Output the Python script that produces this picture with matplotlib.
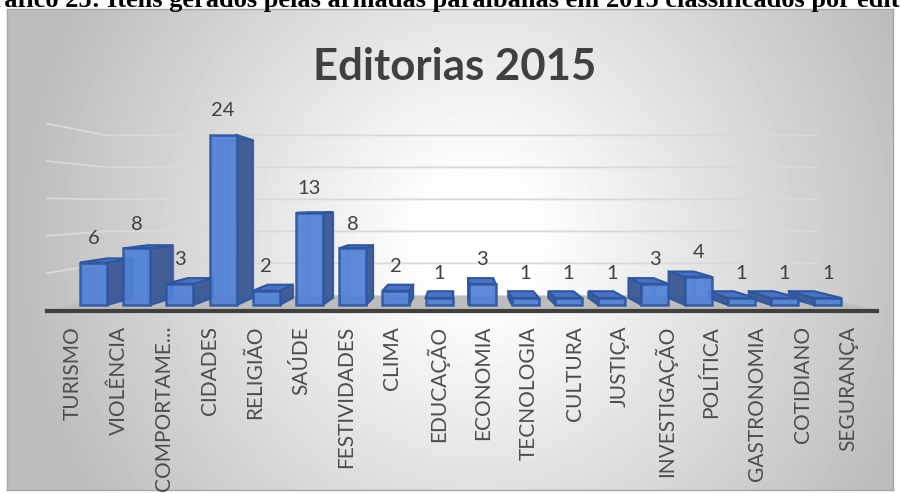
import matplotlib.pyplot as plt
import numpy as np
from matplotlib.patches import Polygon

categorias = ["TURISMO", "VIOLÊNCIA", "COMPORTAME…", "CIDADES", "RELIGIÃO", "SAÚDE",
              "FESTIVIDADES", "CLIMA", "EDUCAÇÃO", "ECONOMIA", "TECNOLOGIA", "CULTURA",
              "JUSTIÇA", "INVESTIGAÇÃO", "POLÍTICA", "GASTRONOMIA", "COTIDIANO", "SEGURANÇA"]
valores = [6, 8, 3, 24, 2, 13, 8, 2, 1, 3, 1, 1, 1, 3, 4, 1, 1, 1]
titulo = "Editorias 2015"
legenda = "Gráfico 25: Itens gerados pelas armadas paraibanas em 2015 classificados por editoria"

W, H = 900, 493
fig = plt.figure(figsize=(9, 4.93), dpi=100)

# moldura com degrade radial
bg = fig.add_axes([7 / W, 1 - 490 / H, 886 / W, 481 / H])
yy, xx = np.mgrid[0:481, 0:886]
d = np.sqrt(((xx - 470) / 450) ** 2 + ((yy - 230) / 470) ** 2)
nivel = 1 - 0.26 * np.clip((d - 0.12) / 0.9, 0, 1)
bg.imshow(nivel, cmap='gray', vmin=0, vmax=1, aspect='auto', interpolation='bilinear')
bg.set_xticks([]); bg.set_yticks([])
for sp in bg.spines.values():
    sp.set_color('#a6a6a6'); sp.set_linewidth(1)

# eixo principal (plano frontal do grafico 3d)
ax = fig.add_axes([47 / W, (H - 310.6) / H, 830 / W, 187 / H])
ax.patch.set_visible(False)
x0, x1 = -0.57, 17.63
ax.set_xlim(x0, x1)
ax.set_ylim(0, 25)
for k in ['top', 'left', 'right']:
    ax.spines[k].set_visible(False)
ax.spines['bottom'].set_color('#404040')
ax.spines['bottom'].set_linewidth(3)
ax.spines['bottom'].set_zorder(10)

# perspectiva: ponto de fuga e profundidades
VX, VY = 8.5, 14.1
S_FRENTE, S_FUNDO, S_PAREDE = 0.947, 0.879, 0.856

def proj(x, y, s):
    return VX + (x - VX) * s, VY + (y - VY) * s

# piso
piso = [proj(x0, 0, 1), proj(x1, 0, 1), proj(x1, 0, S_PAREDE), proj(x0, 0, S_PAREDE)]
ax.add_patch(Polygon(piso, closed=True, fc='#bdbdbd', ec='none', zorder=1, clip_on=False))

# linhas de grade (parede do fundo + parede lateral esquerda)
for g in range(5, 26, 5):
    a = proj(x0, g, 1); b = proj(x0, g, S_PAREDE); c = proj(x1, g, S_PAREDE)
    ax.plot([a[0], b[0], c[0]], [a[1], b[1], c[1]], color='#d9d9d9', lw=1.3,
            zorder=0.5, clip_on=False)

borda = '#2f569f'
frente_cor = '#4f81d6'
lado_cor = '#3a5894'
topo_cor = '#4873c4'
w = 0.3125

ordem = sorted(range(len(valores)), key=lambda i: -abs(i - VX))
for i in ordem:
    v = valores[i]
    xl, xr = i - w, i + w
    frente = [proj(xl, 0, S_FRENTE), proj(xr, 0, S_FRENTE), proj(xr, v, S_FRENTE), proj(xl, v, S_FRENTE)]
    fundo = [proj(xl, 0, S_FUNDO), proj(xr, 0, S_FUNDO), proj(xr, v, S_FUNDO), proj(xl, v, S_FUNDO)]
    xs = xr if i < VX else xl
    lado = [proj(xs, 0, S_FRENTE), proj(xs, 0, S_FUNDO), proj(xs, v, S_FUNDO), proj(xs, v, S_FRENTE)]
    ax.add_patch(Polygon(fundo, closed=True, fc='none', ec=borda, lw=1, alpha=0.6,
                         zorder=2, clip_on=False))
    ax.add_patch(Polygon(lado, closed=True, fc=lado_cor, ec=borda, lw=1.5, alpha=0.95,
                         zorder=3, clip_on=False))
    if v < VY:
        topo = [proj(xl, v, S_FRENTE), proj(xr, v, S_FRENTE), proj(xr, v, S_FUNDO), proj(xl, v, S_FUNDO)]
        ax.add_patch(Polygon(topo, closed=True, fc=topo_cor, ec=borda, lw=1.5,
                             zorder=3, clip_on=False))
    ax.add_patch(Polygon(frente, closed=True, fc=frente_cor, ec=borda, lw=1.8, alpha=0.92,
                         zorder=4, clip_on=False))
    ax.annotate(str(v), xy=proj(i, v, S_FRENTE), xytext=(0, 17.5), textcoords='offset points',
                ha='center', va='center', fontsize=14.5, color='#404040', family='Lato')

ax.set_yticks([])
ax.set_xticks(range(len(categorias)))
ax.set_xticklabels(categorias, rotation=90, fontsize=15, color='#4d4d4d', family='Lato')
ax.tick_params(axis='x', length=0, pad=11)

fig.text(455 / W, 1 - 80 / H, titulo, ha='center', va='baseline', fontsize=31.5,
         fontweight='bold', color='#404040', family='Lato')
# legenda do documento, cortada pela borda superior
fig.text(459 / W, 1 - 7 / H, legenda, ha='center', va='baseline', fontsize=19,
         fontweight='bold', color='black', family='Liberation Serif')

fig.savefig('out.png', dpi=100)
